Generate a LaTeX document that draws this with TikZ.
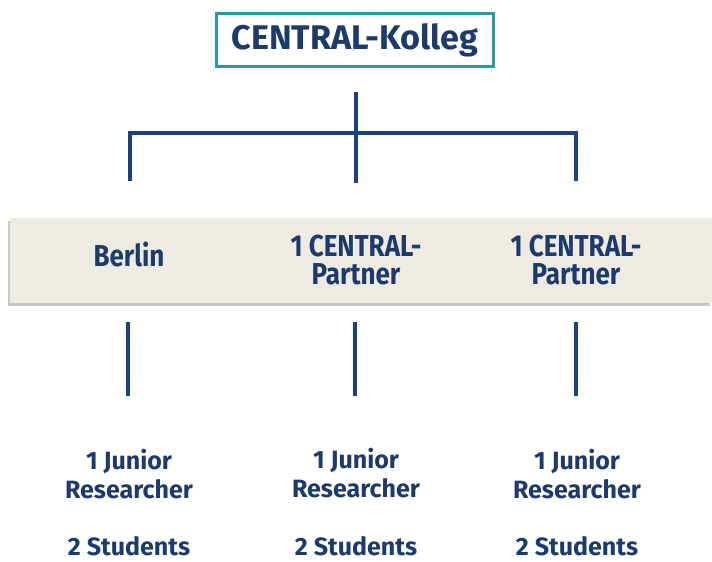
\documentclass[tikz,border=0pt]{standalone}
\usepackage{fontspec}
\setmainfont{Fira Sans}
\newfontfamily\condfont{Fira Sans}[FakeStretch=0.86]
\usetikzlibrary{shadows}

\definecolor{navy}{HTML}{1C3A6B}
\definecolor{linie}{HTML}{1A427D}
\definecolor{teal}{HTML}{2B9AA6}
\definecolor{band}{HTML}{EEEBE3}

\tikzset{
  txt/.style={text=navy, font=\bfseries\fontsize{17.8}{20.5}\selectfont, align=center, inner sep=0pt},
  bandtxt/.style={text=navy, font=\condfont\bfseries\fontsize{21.5}{20.5}\selectfont, align=center, inner sep=0pt},
  ast/.style={draw=linie, line width=2.8pt}
}

\begin{document}
\begin{tikzpicture}[x=0.025cm, y=-0.025cm]
            \useasboundingbox (0,0) rectangle (712,561);

            % Define title
            \node[draw=teal, line width=2pt, minimum width=197pt, minimum height=38pt,
                  text=navy, font=\bfseries\fontsize{24.3}{28}\selectfont] (kolleg) at (355,40) {CENTRAL-Kolleg};

            % Define band
            \fill[band, drop shadow={shadow xshift=-1.2pt, shadow yshift=-2pt, opacity=0.45}]
                (10,218) rectangle (712,303);
            \node[bandtxt] (berlin) at (129,254) {Berlin};
            \node[bandtxt] (partnerA) at (356,260) {1 CENTRAL-\\Partner};
            \node[bandtxt] (partnerB) at (576,260) {1 CENTRAL-\\Partner};

            % Define tree points
            \coordinate (top) at (356,92);
            \coordinate (hubL) at (130,133);
            \coordinate (hubR) at (576,133);
            \coordinate (endL) at (130,181);
            \coordinate (endM) at (356,183);
            \coordinate (endR) at (576,181);

            % Define lower nodes
            \node[txt] (juniorA) at (129,474) {1 Junior\\Researcher};
            \node[txt] (juniorB) at (356,473) {1 Junior\\Researcher};
            \node[txt] (juniorC) at (577,474) {1 Junior\\Researcher};
            \node[txt] (studA) at (129,546) {2 Students};
            \node[txt] (studB) at (356,546) {2 Students};
            \node[txt] (studC) at (577,546) {2 Students};

            \coordinate (dropA) at (128,322);
            \coordinate (dropB) at (355,322);
            \coordinate (dropC) at (576,322);

            % Draw edges of the tree
            \draw[ast] (top) -- (endM);
            \draw[ast] (endL) -- (hubL) -- (hubR) -- (endR);
            \draw[ast] (dropA) -- ++(0,74);
            \draw[ast] (dropB) -- ++(0,74);
            \draw[ast] (dropC) -- ++(0,74);
        \end{tikzpicture}
\end{document}
